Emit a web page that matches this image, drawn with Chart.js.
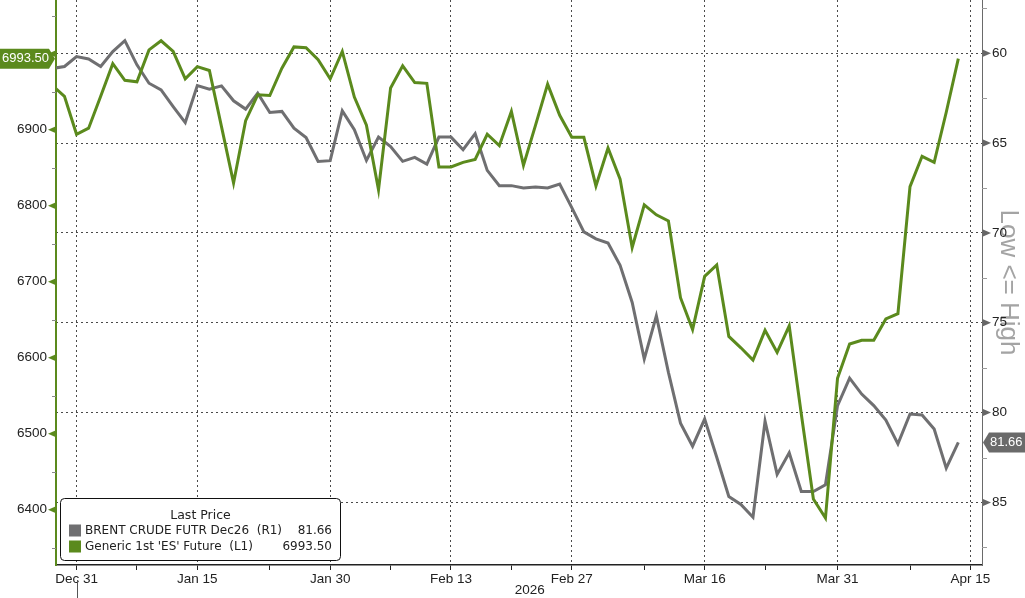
<!DOCTYPE html>
<html>
<head>
<meta charset="utf-8">
<title>Brent Dec26 vs ES</title>
<script src="https://cdn.jsdelivr.net/npm/chart.js@4.4.1/dist/chart.umd.min.js"></script>
<style>
    html, body { margin: 0; padding: 0; background: #ffffff; }
    #wrap { width: 1025px; height: 598px; position: relative; }
</style>
</head>
<body>
<div id="wrap"><canvas id="chart"></canvas></div>
<script>
// trading days shown on the x axis (Apr 15 only carries the last tick)
const dates = [
    'Dec 29', 'Dec 30', 'Dec 31',
    'Jan 2', 'Jan 5', 'Jan 6', 'Jan 7', 'Jan 8', 'Jan 9', 'Jan 12', 'Jan 13', 'Jan 14', 'Jan 15', 'Jan 16',
    'Jan 19', 'Jan 20', 'Jan 21', 'Jan 22', 'Jan 23', 'Jan 26', 'Jan 27', 'Jan 28', 'Jan 29', 'Jan 30',
    'Feb 2', 'Feb 3', 'Feb 4', 'Feb 5', 'Feb 6', 'Feb 9', 'Feb 10', 'Feb 11', 'Feb 12', 'Feb 13',
    'Feb 16', 'Feb 17', 'Feb 18', 'Feb 19', 'Feb 20', 'Feb 23', 'Feb 24', 'Feb 25', 'Feb 26', 'Feb 27',
    'Mar 2', 'Mar 3', 'Mar 4', 'Mar 5', 'Mar 6', 'Mar 9', 'Mar 10', 'Mar 11', 'Mar 12', 'Mar 13',
    'Mar 16', 'Mar 17', 'Mar 18', 'Mar 19', 'Mar 20', 'Mar 23', 'Mar 24', 'Mar 25', 'Mar 26', 'Mar 27',
    'Mar 30', 'Mar 31', 'Apr 1', 'Apr 2', 'Apr 3', 'Apr 6', 'Apr 7', 'Apr 8', 'Apr 9', 'Apr 10',
    'Apr 13', 'Apr 14', 'Apr 15'
];

// BRENT CRUDE FUTR Dec26 (R1, inverted right axis)
const brent = [
    60.85, 60.74, 60.19,
    60.32, 60.74, 59.91, 59.30, 60.65, 61.67, 62.04, 62.97, 63.86, 61.80, 62.00,
    61.82, 62.65, 63.11, 62.22, 63.30, 63.24, 64.17, 64.69, 66.02, 65.98,
    63.21, 64.26, 65.97, 64.67, 65.19, 66.02, 65.80, 66.17, 64.67, 64.67,
    65.37, 64.48, 66.52, 67.37, 67.37, 67.50, 67.44, 67.50, 67.28, 68.59,
    69.94, 70.33, 70.56, 71.80, 73.87, 77.02, 74.61, 77.76, 80.59, 81.87,
    80.36, 82.48, 84.67, 85.11, 85.82, 80.48, 83.44, 82.24, 84.39, 84.39,
    84.02, 79.61, 78.08, 78.97, 79.61, 80.41, 81.74, 80.08, 80.13, 80.91,
    83.09, 81.66
];

// Generic 1st 'ES' Future (L1)
const es = [
    6958, 6944, 6894,
    6902, 6944, 6987, 6965, 6963, 7005, 7017, 7003, 6967, 6983, 6978,
    6904, 6830, 6912, 6946, 6945, 6981, 7009, 7008, 6992, 6967,
    7003, 6943, 6906, 6821, 6955, 6984, 6962, 6961, 6851, 6851,
    6857, 6861, 6894, 6879, 6924, 6853, 6906, 6960, 6919, 6890,
    6890, 6826, 6876, 6835, 6745, 6801, 6788, 6780, 6679, 6637,
    6707, 6722, 6628, 6613, 6597, 6636, 6607, 6642, 6526, 6414,
    6389, 6573, 6618, 6623, 6623, 6651, 6658, 6825, 6865, 6857,
    6923, 6993.5
];

const xTickLabels = ['Dec 31', 'Jan 15', 'Jan 30', 'Feb 13', 'Feb 27', 'Mar 16', 'Mar 31', 'Apr 15'];
const xMinorLabels = ['Jan 8', 'Jan 23', 'Feb 6', 'Feb 20', 'Mar 9', 'Mar 23', 'Apr 8'];
const leftTicks = [6350, 6400, 6450, 6500, 6550, 6600, 6650, 6700, 6750, 6800, 6850, 6900, 6950, 7000, 7050];
const rightTicks = [57.5, 60, 62.5, 65, 67.5, 70, 72.5, 75, 77.5, 80, 82.5, 85, 87.5];

const GREEN = '#5b8a1d';
const GREY = '#6f6f71';
const FONT = "'Liberation Sans', Arial, sans-serif";
const LEGEND_FONT = "'DejaVu Sans', Verdana, sans-serif";

const majorIdx = xTickLabels.map(l => dates.indexOf(l));
const minorIdx = xMinorLabels.map(l => dates.indexOf(l));
const lastEs = es[es.length - 1];
const lastBrent = brent[brent.length - 1];

function fixSize(w, h) {
    return function (scale) {
        if (w !== null) scale.width = w;
        if (h !== null) scale.height = h;
        scale.paddingTop = 0;
        scale.paddingBottom = 0;
        scale.paddingLeft = 0;
        scale.paddingRight = 0;
    };
}

// tick arrows, year label, legend box and last-value tags
const overlayPlugin = {
    id: 'overlay',
    afterDraw(chart) {
        const { ctx, chartArea, scales } = chart;
        const yL = scales.yL, yR = scales.yR, x = scales.x;
        ctx.save();

        yL.ticks.forEach(t => {
            const py = yL.getPixelForValue(t.value);
            if (t.value % 100 === 0) {
                ctx.fillStyle = GREEN;
                ctx.beginPath();
                ctx.moveTo(chartArea.left - 8, py);
                ctx.lineTo(chartArea.left, py - 3.5);
                ctx.lineTo(chartArea.left, py + 3.5);
                ctx.closePath();
                ctx.fill();
            } else {
                ctx.strokeStyle = '#8a8a8a';
                ctx.lineWidth = 1;
                ctx.beginPath();
                ctx.moveTo(chartArea.left - 4, Math.round(py) + 0.5);
                ctx.lineTo(chartArea.left, Math.round(py) + 0.5);
                ctx.stroke();
            }
        });

        yR.ticks.forEach(t => {
            const py = yR.getPixelForValue(t.value);
            if (t.value % 5 === 0) {
                ctx.fillStyle = '#666666';
                ctx.beginPath();
                ctx.moveTo(chartArea.right + 9, py);
                ctx.lineTo(chartArea.right + 1, py - 3.5);
                ctx.lineTo(chartArea.right + 1, py + 3.5);
                ctx.closePath();
                ctx.fill();
            } else {
                ctx.strokeStyle = '#9a9a9a';
                ctx.lineWidth = 1;
                ctx.beginPath();
                ctx.moveTo(chartArea.right, Math.round(py) + 0.5);
                ctx.lineTo(chartArea.right + 5, Math.round(py) + 0.5);
                ctx.stroke();
            }
        });

        // year separator + year label
        const yearX = Math.round(x.getPixelForValue(majorIdx[0])) + 0.5;
        ctx.strokeStyle = '#555555';
        ctx.lineWidth = 1;
        ctx.beginPath();
        ctx.moveTo(yearX, chartArea.bottom + 15);
        ctx.lineTo(yearX, chart.height);
        ctx.stroke();
        ctx.fillStyle = '#222222';
        ctx.font = '13.5px ' + FONT;
        ctx.textAlign = 'center';
        ctx.textBaseline = 'middle';
        ctx.fillText('2026', (yearX + chartArea.right) / 2, 590);

        // legend box
        const bx = 60.5, by = 498.5, bw = 280, bh = 62;
        ctx.fillStyle = '#ffffff';
        ctx.strokeStyle = '#111111';
        ctx.lineWidth = 1;
        ctx.beginPath();
        if (ctx.roundRect) ctx.roundRect(bx, by, bw, bh, 4); else ctx.rect(bx, by, bw, bh);
        ctx.fill();
        ctx.stroke();
        ctx.fillStyle = '#222222';
        ctx.font = '12.5px ' + LEGEND_FONT;
        ctx.textAlign = 'center';
        ctx.fillText('Last Price', bx + bw / 2, 515.5);
        ctx.font = '12px ' + LEGEND_FONT;
        const rows = [
            { label: "BRENT CRUDE FUTR Dec26  (R1)", color: GREY, value: lastBrent.toFixed(2), y: 530.5 },
            { label: "Generic 1st 'ES' Future  (L1)", color: GREEN, value: lastEs.toFixed(2), y: 546.5 }
        ];
        rows.forEach(r => {
            ctx.fillStyle = r.color;
            ctx.fillRect(69, r.y - 6, 12, 12);
            ctx.fillStyle = '#222222';
            ctx.textAlign = 'left';
            ctx.fillText(r.label, 85, r.y);
            ctx.textAlign = 'right';
            ctx.fillText(r.value, 332, r.y);
        });

        // last value tags
        ctx.font = '13px ' + FONT;
        const gy = yL.getPixelForValue(lastEs);
        ctx.fillStyle = GREEN;
        ctx.beginPath();
        ctx.moveTo(0, gy - 10);
        ctx.lineTo(49, gy - 10);
        ctx.lineTo(chartArea.left - 1, gy);
        ctx.lineTo(49, gy + 10);
        ctx.lineTo(0, gy + 10);
        ctx.closePath();
        ctx.fill();
        ctx.fillStyle = '#ffffff';
        ctx.textAlign = 'center';
        ctx.fillText(lastEs.toFixed(2), 25.5, gy);

        const ry = yR.getPixelForValue(lastBrent);
        ctx.fillStyle = '#6a6a6a';
        ctx.beginPath();
        ctx.moveTo(chartArea.right + 1, ry);
        ctx.lineTo(chartArea.right + 7, ry - 10);
        ctx.lineTo(chart.width, ry - 10);
        ctx.lineTo(chart.width, ry + 10);
        ctx.lineTo(chartArea.right + 7, ry + 10);
        ctx.closePath();
        ctx.fill();
        ctx.fillStyle = '#ffffff';
        ctx.textAlign = 'left';
        ctx.fillText(lastBrent.toFixed(2), chartArea.right + 8, ry);

        ctx.restore();
    }
};

const ctx = document.getElementById('chart').getContext('2d');
new Chart(ctx, {
    type: 'line',
    data: {
        datasets: [
            {
                label: "Generic 1st 'ES' Future (L1)",
                data: es.map((v, i) => ({ x: i, y: v })),
                yAxisID: 'yL',
                borderColor: GREEN,
                borderWidth: 3,
                pointRadius: 0,
                tension: 0
            },
            {
                label: 'BRENT CRUDE FUTR Dec26 (R1)',
                data: brent.map((v, i) => ({ x: i, y: v })),
                yAxisID: 'yR',
                borderColor: GREY,
                borderWidth: 3,
                pointRadius: 0,
                tension: 0
            }
        ]
    },
    options: {
        responsive: true,
        maintainAspectRatio: false,
        animation: false,
        layout: { padding: 0 },
        plugins: { legend: { display: false }, tooltip: { enabled: false } },
        scales: {
            x: {
                type: 'linear',
                position: 'bottom',
                min: 0.3,
                max: 76.96,
                afterBuildTicks: s => {
                    s.ticks = majorIdx.concat(minorIdx).sort((a, b) => a - b).map(v => ({ value: v }));
                },
                afterFit: fixSize(null, 33),
                ticks: {
                    autoSkip: false,
                    maxRotation: 0,
                    padding: 1,
                    color: '#222222',
                    font: { family: FONT, size: 13.5 },
                    callback: v => (majorIdx.includes(v) ? dates[v] : '')
                },
                grid: {
                    color: c => (c.tick && majorIdx.includes(c.tick.value) ? '#4a4a4a' : 'rgba(0,0,0,0)'),
                    tickColor: '#222222',
                    tickLength: 5,
                    lineWidth: 1
                },
                border: { color: '#222222', width: 1.5, dash: [2, 3] }
            },
            yL: {
                type: 'linear',
                position: 'left',
                min: 6327.2,
                max: 7070.7,
                afterBuildTicks: s => { s.ticks = leftTicks.map(v => ({ value: v })); },
                afterFit: fixSize(56, null),
                ticks: {
                    padding: 9,
                    color: '#222222',
                    font: { family: FONT, size: 13.5 },
                    // labels sitting under the last-price tag are left out
                    callback: v => (v % 100 === 0 && Math.abs(v - lastEs) > 25 ? String(v) : '')
                },
                grid: { display: false, drawTicks: false },
                border: { color: GREEN, width: 2 }
            },
            yR: {
                type: 'linear',
                position: 'right',
                reverse: true,
                min: 57.04,
                max: 88.48,
                afterBuildTicks: s => { s.ticks = rightTicks.map(v => ({ value: v })); },
                afterFit: fixSize(43, null),
                ticks: {
                    padding: 10,
                    color: '#222222',
                    font: { family: FONT, size: 13.5 },
                    callback: v => (v % 5 === 0 ? String(v) : '')
                },
                grid: {
                    drawTicks: false,
                    color: c => (c.tick && c.tick.value % 5 === 0 ? '#4a4a4a' : 'rgba(0,0,0,0)'),
                    lineWidth: 1
                },
                border: { color: '#6a6a6a', width: 1, dash: [2, 3] },
                title: {
                    display: true,
                    text: 'Low <= High',
                    color: '#a4a4a4',
                    font: { family: FONT, size: 26 },
                    padding: { top: 1, bottom: 0 }
                }
            }
        }
    },
    plugins: [overlayPlugin]
});
</script>
</body>
</html>
